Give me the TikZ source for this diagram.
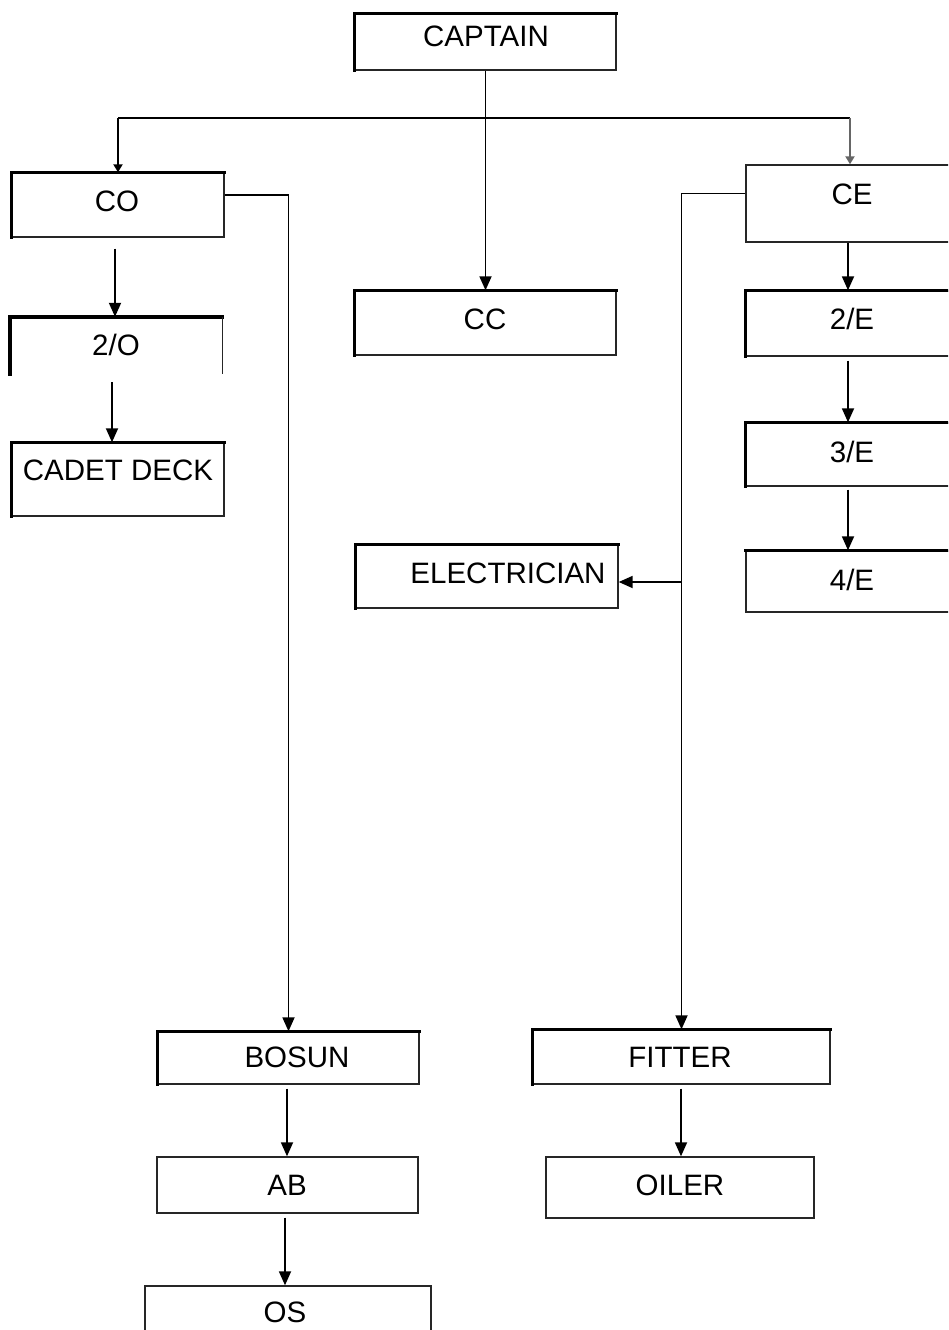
\documentclass[tikz,border=0pt]{standalone}
\usepackage{fontspec}
\setmainfont{Liberation Sans}
\usetikzlibrary{arrows.meta}
\begin{document}
\begin{tikzpicture}[x=1pt,y=-1pt,
  box/.style={draw=black!85, line width=1.4pt, rectangle, inner sep=0pt},
  nobox/.style={rectangle, inner sep=0pt},
  txt/.style={font=\fontsize{29.5}{35}\selectfont, text height=21pt, text depth=0pt, inner sep=0pt},
  heavy/.style={line width=3.5pt, black, line cap=rect},
  conn/.style={line width=1.8pt, black},
  arr/.style={conn, -{Triangle[width=12pt,length=14pt]}},
  smallarr/.style={conn, -{Triangle[width=9pt,length=8pt]}}]
\useasboundingbox (0,0) rectangle (948,1330);
\clip (0,0) rectangle (948,1330);
% boxes
\node[box, minimum width=261pt, minimum height=56pt] (captain) at (485.5,42) {};
\node[box, minimum width=212pt, minimum height=64pt] (co) at (118,205) {};
\node[nobox, minimum width=212pt, minimum height=57pt] (o2) at (116,345.5) {};
\node[box, minimum width=212pt, minimum height=73pt] (cadet) at (118,479.5) {};
\node[box, minimum width=261pt, minimum height=64pt] (cc) at (485.5,323) {};
\node[box, minimum width=262pt, minimum height=63pt] (elec) at (487,576.5) {};
\node[box, minimum width=208pt, minimum height=77pt] (ce) at (850,203.5) {};
\node[box, minimum width=208pt, minimum height=65pt] (e2) at (850,323.5) {};
\node[box, minimum width=208pt, minimum height=63pt] (e3) at (850,454.5) {};
\node[box, minimum width=208pt, minimum height=61pt] (e4) at (850,581.5) {};
\node[box, minimum width=261pt, minimum height=52pt] (bosun) at (288.5,1058) {};
\node[box, minimum width=261pt, minimum height=56pt] (ab) at (287.5,1185) {};
\node[box, minimum width=286pt, minimum height=59pt] (os) at (288,1315.5) {};
\node[box, minimum width=297pt, minimum height=54pt] (fitter) at (681.5,1057) {};
\node[box, minimum width=268pt, minimum height=61pt] (oiler) at (680,1187.5) {};
% heavy top/left edges
\foreach \n in {captain,co,o2,cadet,cc,elec,e2,e3,bosun,fitter}
  \draw[heavy] (\n.south west) -- (\n.north west) -- (\n.north east);
\draw[heavy] (e4.north west) -- (e4.north east);
\draw[black!85, line width=1.4pt] (o2.north east) -- (o2.south east);
% texts
\node[txt] (tcaptain) at (486,36) {CAPTAIN};
\node[txt] (tco) at (117,201) {CO};
\node[txt] (to2) at (116,345) {2/O};
\node[txt] (tcadet) at (118,470) {CADET DECK};
\node[txt] (tcc) at (485,319) {CC};
\node[txt] (telec) at (508,573) {ELECTRICIAN};
\node[txt] (tce) at (852,194) {CE};
\node[txt] (te2) at (852,319) {2/E};
\node[txt] (te3) at (852,452) {3/E};
\node[txt] (te4) at (852,580) {4/E};
\node[txt] (tbosun) at (297,1057) {BOSUN};
\node[txt] (tab) at (287,1185) {AB};
\node[txt] (tos) at (285,1312) {OS};
\node[txt] (tfitter) at (680,1057) {FITTER};
\node[txt] (toiler) at (680,1185) {OILER};
% connectors
\coordinate (bus) at (485,118);
\draw[arr] (captain.south) -- (cc.north);
\draw[line width=2.4pt] (bus -| co.north) -- (bus -| ce.north);
\draw[smallarr, line width=2.6pt] (bus -| co.north) -- (co.north);
\draw[smallarr, line width=2.4pt, black!60] (bus -| ce.north) -- (ce.north);
\draw[arr] ([yshift=10pt]co.east) -| (bosun.north);
\draw[arr] ([yshift=10pt]ce.west) -| (fitter.north);
\coordinate (tap) at ([yshift=-5.5pt]elec.east);
\draw[arr] (tap -| fitter.north) -- (tap);
\draw[arr] ([xshift=-3pt,yshift=-11pt]co.south) -- ([xshift=-1pt]o2.north);
\draw[arr] ([xshift=-4pt,yshift=-8pt]o2.south) -- ([xshift=-6pt]cadet.north);
\draw[arr] ([xshift=-2pt]ce.south) -- ([xshift=-2pt]e2.north);
\draw[arr] ([xshift=-2pt,yshift=-4pt]e2.south) -- ([xshift=-2pt]e3.north);
\draw[arr] ([xshift=-2pt,yshift=-3pt]e3.south) -- ([xshift=-2pt]e4.north);
\draw[arr] ([xshift=-1.5pt,yshift=-4pt]bosun.south) -- ([xshift=-0.5pt]ab.north);
\draw[arr] ([xshift=-2.5pt,yshift=-4pt]ab.south) -- ([xshift=-3pt]os.north);
\draw[arr] ([xshift=-0.5pt,yshift=-4pt]fitter.south) -- ([xshift=1pt]oiler.north);
\end{tikzpicture}
\end{document}
